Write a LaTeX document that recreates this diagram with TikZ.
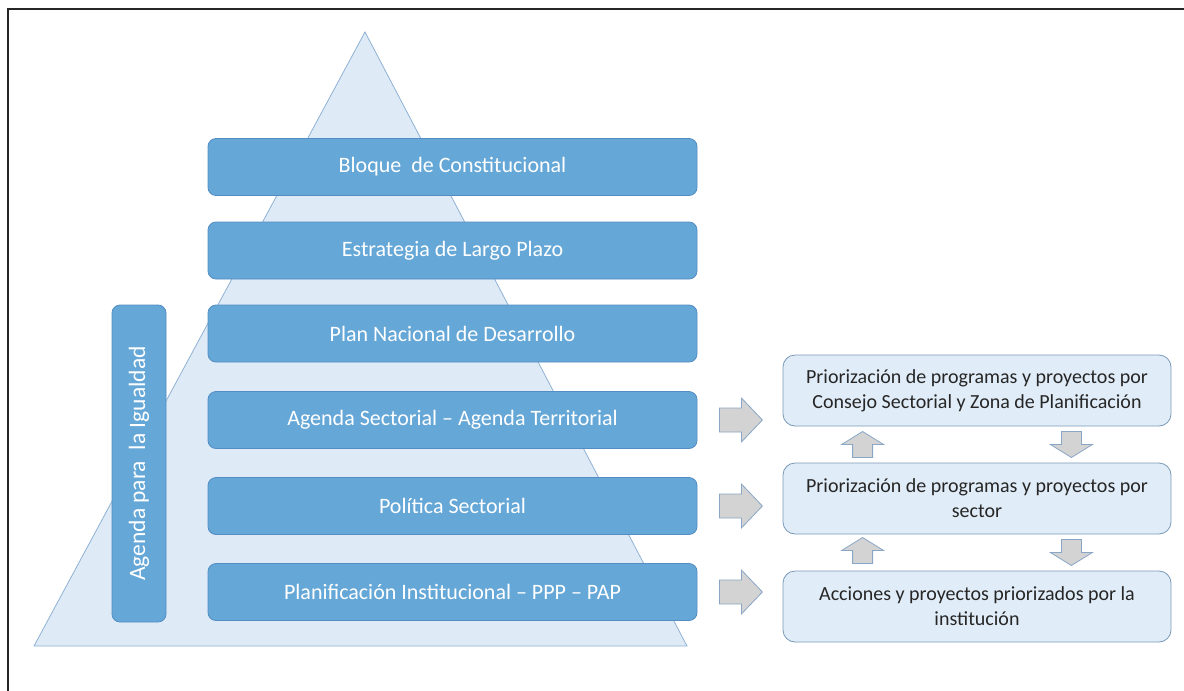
\documentclass[tikz,border=0pt]{standalone}
\usepackage{fontspec}
\setmainfont{Carlito}
\usetikzlibrary{calc}
\definecolor{pyrfill}{RGB}{222,235,247}
\definecolor{pyrdraw}{RGB}{143,177,212}
\definecolor{levfill}{RGB}{101,167,215}
\definecolor{levdraw}{RGB}{84,141,196}
\definecolor{priofill}{RGB}{224,236,247}
\definecolor{priodraw}{RGB}{122,152,184}
\definecolor{arrfill}{RGB}{211,211,211}
\definecolor{arrdraw}{RGB}{138,166,198}
\definecolor{priotext}{RGB}{38,38,38}

\begin{document}
\begin{tikzpicture}[x=1pt,y=-1pt,
  level/.style={draw=levdraw,fill=levfill,line width=0.8pt,rounded corners=8pt,minimum width=489pt,minimum height=57pt,text=white,font=\fontsize{22}{26}\selectfont},
  prio/.style={draw=priodraw,fill=priofill,line width=0.8pt,rounded corners=12pt,minimum width=388pt,minimum height=71pt,align=center,text=priotext,font=\fontsize{20}{25}\selectfont},
  blockarrow/.style={draw=arrdraw,fill=arrfill,line width=0.8pt},
  sidearrow/.pic={\draw[blockarrow] (-21,-12) -- (1,-12) -- (1,-22) -- (22,0) -- (1,22) -- (1,12) -- (-21,12) -- cycle;},
  steparrow/.pic={\draw[blockarrow] (-13,-10) -- (0,-10) -- (0,-21) -- (13,0) -- (0,21) -- (0,10) -- (-13,10) -- cycle;}]
\useasboundingbox (0,0) rectangle (1184,691);
\draw[line width=1.2pt,black!85] (8,691) -- (8,9) -- (1184,9);
\draw[fill=pyrfill,draw=pyrdraw,line width=0.8pt] (365,32) -- (687,646) -- (34,646) -- cycle;

\node[level] (l1) at (452.5,167) {Bloque\ \ de Constitucional};
\node[level] (l2) at (452.5,250.5) {Estrategia de Largo Plazo};
\node[level] (l3) at (452.5,333.5) {Plan Nacional de Desarrollo};
\node[level] (l4) at (452.5,420) {Agenda Sectorial -- Agenda Territorial};
\node[level] (l5) at (452.5,506) {Política Sectorial};
\node[level] (l6) at (452.5,592) {Planificación Institucional -- PPP -- PAP};
\node[level,rotate=90,minimum width=317pt,minimum height=54pt,font=\fontsize{23.5}{28}\selectfont] (ag) at (139,463.5) {Agenda para\ \ la Igualdad};

\node[prio] (r1) at (977,390.5) {Priorización de programas y proyectos por\\Consejo Sectorial y Zona de Planificación};
\node[prio] (r2) at (977,498.5) {Priorización de programas y proyectos por\\sector};
\node[prio] (r3) at (977,606.5) {Acciones y proyectos priorizados por la\\institución};

\pic at ($(l4.east)+(43,0)$) {sidearrow};
\pic at ($(l5.east)+(43,0)$) {sidearrow};
\pic at ($(l6.east)+(43,0)$) {sidearrow};
\pic[rotate=90] at ($(r1.south west)!0.5!(r2.north west)+(80,0)$) {steparrow};
\pic[rotate=-90] at ($(r1.south east)!0.5!(r2.north east)+(-100,0)$) {steparrow};
\pic[rotate=90] at ($(r2.south west)!0.5!(r3.north west)+(80,-2)$) {steparrow};
\pic[rotate=-90] at ($(r2.south east)!0.5!(r3.north east)+(-100,0)$) {steparrow};
\end{tikzpicture}
\end{document}
